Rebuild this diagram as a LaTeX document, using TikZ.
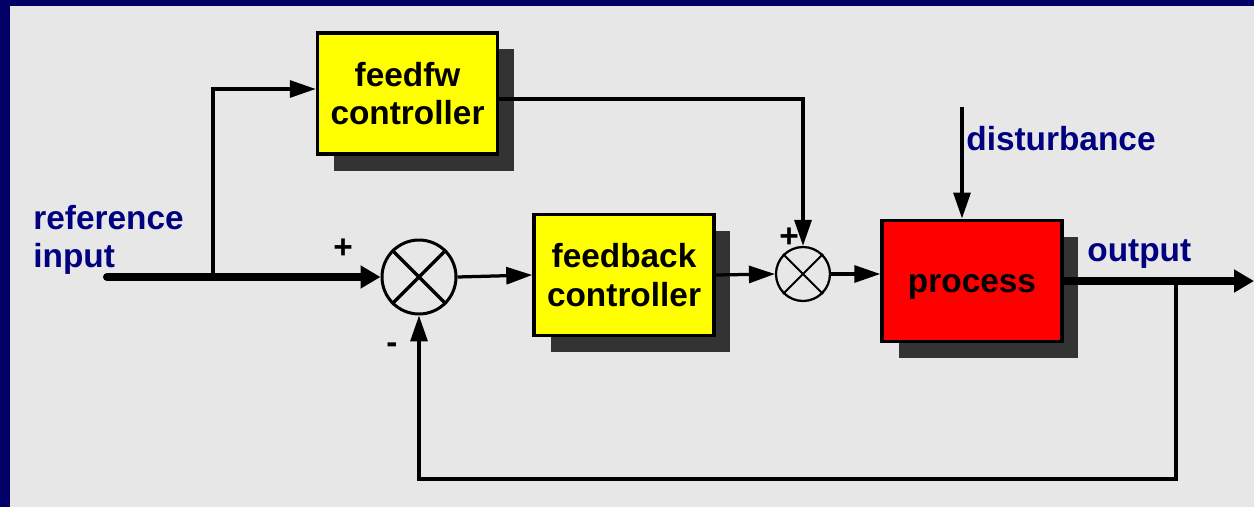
\documentclass[tikz,border=0pt]{standalone}
\usepackage{fontspec}
\setmainfont{Liberation Sans}
\usepackage{xcolor}
\definecolor{frameNavy}{RGB}{0, 0, 102}
\definecolor{labelNavy}{RGB}{0, 0, 128}
\definecolor{slideGray}{RGB}{231, 231, 231}
\definecolor{shadowGray}{RGB}{51, 51, 51}
\definecolor{blockYellow}{RGB}{255, 255, 0}
\definecolor{blockRed}{RGB}{255, 0, 0}
\usetikzlibrary{arrows.meta, positioning, calc, shadows}
\tikzset{
    base/.style={draw=black, line width=0.07cm, align=center, inner sep=0pt, font=\bfseries\fontsize{19}{22}\selectfont},
    block/.style={base, minimum width=3.6cm, minimum height=2.43cm, drop shadow={shadow xshift=0.33cm, shadow yshift=-0.33cm, fill=shadowGray, opacity=1}},
    sumBig/.style={circle, draw=black, line width=0.06cm, minimum size=1.48cm, inner sep=0pt},
    sumSmall/.style={circle, draw=black, line width=0.045cm, minimum size=1.08cm, inner sep=0pt},
    arrow/.style={-{Triangle[length=0.52cm, width=0.34cm]}, line width=0.065cm, draw=black},
    bigArrow/.style={-{Triangle[length=0.4cm, width=0.44cm]}, line width=0.16cm, line cap=round, draw=black},
    sigText/.style={font=\bfseries\fontsize{19}{22}\selectfont, text=labelNavy, inner sep=0pt, align=left},
    signText/.style={font=\bfseries\fontsize{19}{22}\selectfont, inner sep=0pt}
}
\begin{document}
\begin{tikzpicture}[x=0.02cm, y=-0.02cm]

    % --- SLIDE BACKGROUND ---
    \useasboundingbox (0,0) rectangle (1254,507);
    \fill[frameNavy] (0,0) rectangle (1254,507);
    \fill[slideGray] (10,6) rectangle (1254,507);

    % --- BLOCKS ---
    \node[block, fill=blockYellow] (feedfw) at (407.5,93.5) {feedfw\\controller};
    \node[block, fill=blockYellow] (feedback) at (624,275) {feedback\\controller};
    \node[block, fill=blockRed] (process) at (972,281) {\raisebox{-0.12cm}[\height][\depth]{process}};

    % --- SUMMING JUNCTIONS ---
    \node[sumBig] (sumA) at (419,277) {};
    \draw[line width=0.07cm] (sumA.north west) -- (sumA.south east);
    \draw[line width=0.07cm] (sumA.north east) -- (sumA.south west);
    \node[sumSmall] (sumB) at (803,274) {};
    \draw[line width=0.04cm] (sumB.north west) -- (sumB.south east);
    \draw[line width=0.04cm] (sumB.north east) -- (sumB.south west);

    % --- LABELS ---
    \node[sigText, anchor=west] (refLabel) at (33,240) {reference\\input};
    \node[sigText, anchor=base west] (distLabel) at (966,150) {disturbance};
    \node[sigText, anchor=base west] (outLabel) at (1087,261) {output};
    \node[signText] (plusA) at (343,249) {+};
    \node[signText] (minusA) at (392,348) {-};
    \node[signText] (plusB) at (789,238) {+};

    % --- CONNECTIONS ---
    \coordinate (refIn) at (107,277);
    \coordinate (branch) at (213,277);
    \coordinate (distIn) at (962,107);
    \coordinate (outEnd) at (1254,281);
    \coordinate (tap) at (1176,281);

    \draw[bigArrow] (refIn) -- (sumA.west);
    \draw[arrow] (branch) |- ([yshift=0.09cm]feedfw.west);
    \draw[arrow] ([yshift=-0.11cm]feedfw.east) -| (sumB.north);
    \draw[arrow] (sumA.east) -- (feedback.west);
    \draw[arrow] (feedback.east) -- (sumB.west);
    \draw[arrow] (sumB.east) -- (sumB.east -| process.west);
    \draw[arrow] (distIn) -- (distIn |- process.north);
    \draw[bigArrow, line cap=butt] (process.east) -- (outEnd);

    % Feedback path
    \draw[arrow] (tap) -- ++(0,198) -| (sumA.south);

\end{tikzpicture}
\end{document}
